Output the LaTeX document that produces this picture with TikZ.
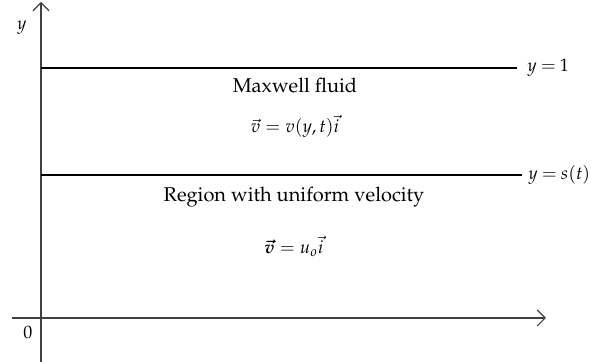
\documentclass[tikz,border=0pt]{standalone}
\usepackage{amsmath}
\usepackage[T1]{fontenc}
\usepackage{mathpazo}
\usepackage{tikz}
\usetikzlibrary{arrows.meta, positioning}

\begin{document}
\begin{tikzpicture}[
  x=0.5pt, y=-0.5pt,
  node distance=6pt,
  axis/.style={-{Straight Barb[length=4pt,width=8pt]}, line width=0.6pt, black!75},
  level/.style={line width=0.6pt, black},
  lbl/.style={inner sep=1pt, anchor=west, font=\small},
  txt/.style={inner sep=1pt, font=\normalsize},
  eq/.style={inner sep=1pt, font=\small}
]
\useasboundingbox (0,0) rectangle (591,362);

% Axes
\coordinate (ybot) at (41,362);
\coordinate (ytop) at (41,2);
\coordinate (xleft) at (12,318);
\coordinate (xright) at (546,318);
\draw[axis] (ybot) -- (ytop);
\draw[axis] (xleft) -- (xright);
\node[eq] (ylab) at (22,28) {$y$};
\node[eq] (zero) at (28,333) {$0$};

% Interfaces
\coordinate (top0) at (41,68);
\coordinate (front0) at (41,175);
\node[lbl] (top) at (525,68) {$\thickmuskip=4mu\relax y = 1$};
\node[lbl] (front) at (526,175) {$\thickmuskip=4mu\relax y = s(t)$};
\draw[level] (top0) -- ([xshift=-4pt]top.west);
\draw[level] (front0) -- ([xshift=-2pt]front.west);

% Regions
\node[txt] (maxwell) at (295,85) {Maxwell fluid};
\node[eq, below=9pt of maxwell] (vmax) {$\vec{v} = v(y,t)\vec{i}$};
\node[txt] (region) at (294,197) {Region with uniform velocity};
\node[eq, below=12pt of region] (vuni) {$\boldsymbol{\vec{v}} = u_o\vec{i}$};

\end{tikzpicture}
\end{document}
